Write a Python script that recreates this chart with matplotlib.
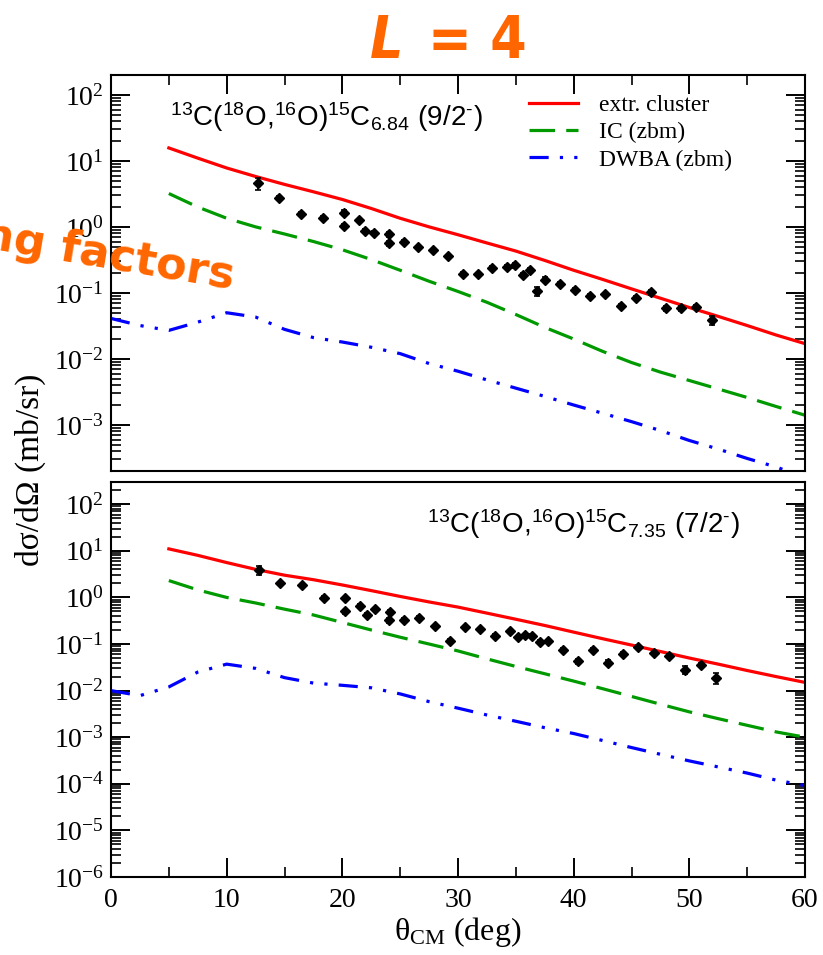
import numpy as np
import matplotlib
matplotlib.use("Agg")
import matplotlib.pyplot as plt
from matplotlib.ticker import LogLocator, NullFormatter, MultipleLocator

plt.rcParams['font.family'] = ['Liberation Serif', 'DejaVu Serif']

# ---------------- data ----------------
# theory curves, top panel: 15C 6.84 (9/2-)
th_x = [5, 7.5, 10, 12.5, 15, 17.5, 20, 22.5, 25, 27.5, 30, 32.5, 35, 37.5,
        40, 42.5, 45, 47.5, 50, 52.5, 55, 57.5, 60]
top_cluster = [15.7, 11.0, 7.8, 5.8, 4.4, 3.4, 2.6, 1.9, 1.35, 1.0, 0.76,
               0.57, 0.43, 0.31, 0.22, 0.16, 0.115, 0.083, 0.060, 0.044,
               0.032, 0.023, 0.017]
top_ic = [3.2, 2.0, 1.35, 1.0, 0.78, 0.60, 0.45, 0.32, 0.22, 0.15, 0.105,
          0.072, 0.047, 0.030, 0.020, 0.013, 0.0088, 0.0063, 0.0047, 0.0035,
          0.0026, 0.0019, 0.0014]

dw_x = [0, 2.5, 5, 7.5, 10, 12.5, 15, 17.5, 20, 22.5, 25, 27.5, 30, 32.5, 35,
        37.5, 40, 42.5, 45, 47.5, 50, 52.5, 55, 57.5, 60]
top_dwba = [0.041, 0.032, 0.027, 0.036, 0.050, 0.043, 0.028, 0.021, 0.018,
            0.015, 0.012, 0.0085, 0.0065, 0.0048, 0.0036, 0.0027, 0.0020,
            0.0015, 0.00112, 0.00082, 0.00058, 0.00043, 0.00031, 0.00023,
            0.00016]

# theory curves, bottom panel: 15C 7.35 (7/2-)
bot_cluster = [11.0, 8.0, 5.6, 4.0, 3.0, 2.4, 1.85, 1.4, 1.05, 0.8, 0.62,
               0.46, 0.34, 0.25, 0.18, 0.13, 0.095, 0.069, 0.050, 0.037,
               0.027, 0.020, 0.015]
bot_ic = [2.3, 1.45, 1.0, 0.76, 0.56, 0.42, 0.29, 0.20, 0.14, 0.10, 0.071,
          0.048, 0.033, 0.023, 0.016, 0.011, 0.0075, 0.0051, 0.0035, 0.0025,
          0.0018, 0.0013, 0.001]
bot_dwba = [0.010, 0.0078, 0.012, 0.025, 0.037, 0.030, 0.019, 0.0145, 0.013,
            0.0115, 0.0085, 0.0058, 0.0042, 0.0030, 0.0022, 0.0016, 0.0012,
            0.00085, 0.0006, 0.00043, 0.00031, 0.00023, 0.00017, 0.00012,
            0.000092]

# experimental points, top panel
top_exp_x = [12.73, 14.55, 16.4, 18.3, 20.17, 20.17, 21.4, 22.0, 22.7, 24.0,
             24.0, 25.3, 26.56, 27.8, 29.1, 30.4, 31.7, 32.96, 34.25, 34.95,
             35.58, 36.2, 36.85, 37.54, 38.84, 40.1, 41.43, 42.73, 44.05,
             45.38, 46.65, 48.0, 49.3, 50.6, 51.97]
top_exp_y = [4.57, 2.75, 1.58, 1.37, 1.65, 1.03, 1.25, 0.86, 0.81, 0.77, 0.57,
             0.60, 0.49, 0.44, 0.36, 0.195, 0.191, 0.238, 0.246, 0.261, 0.189,
             0.22, 0.106, 0.159, 0.138, 0.112, 0.091, 0.095, 0.063, 0.085,
             0.102, 0.058, 0.058, 0.061, 0.039]
top_exp_err = [0.9, 0.2, 0.1, 0.08, 0.15, 0.08, 0.08, 0.06, 0.05, 0.06, 0.05,
               0.04, 0.03, 0.03, 0.02, 0.015, 0.012, 0.015, 0.02, 0.025, 0.012,
               0.015, 0.015, 0.012, 0.01, 0.008, 0.006, 0.006, 0.005, 0.006,
               0.008, 0.005, 0.005, 0.005, 0.006]

# experimental points, bottom panel
bot_exp_x = [12.8, 14.63, 16.48, 18.4, 20.25, 20.25, 21.55, 22.1, 22.8, 24.1,
             24.0, 25.35, 26.6, 27.97, 29.27, 30.6, 31.9, 33.2, 34.5, 35.15,
             35.8, 36.4, 37.1, 37.8, 39.1, 40.4, 41.7, 43.0, 44.3, 45.6,
             46.95, 48.25, 49.6, 50.97, 52.3]
bot_exp_y = [3.87, 2.0, 1.84, 0.99, 0.95, 0.50, 0.66, 0.43, 0.56, 0.49, 0.32,
             0.33, 0.37, 0.24, 0.118, 0.228, 0.206, 0.151, 0.187, 0.139, 0.156,
             0.151, 0.109, 0.114, 0.075, 0.043, 0.075, 0.040, 0.062, 0.086,
             0.065, 0.056, 0.028, 0.036, 0.019]
bot_exp_err = [0.8, 0.15, 0.12, 0.06, 0.06, 0.05, 0.05, 0.04, 0.04, 0.04, 0.04,
               0.03, 0.03, 0.02, 0.01, 0.015, 0.015, 0.012, 0.015, 0.01, 0.012,
               0.012, 0.01, 0.01, 0.007, 0.005, 0.006, 0.005, 0.005, 0.008,
               0.006, 0.006, 0.005, 0.004, 0.005]

labels = ["extr. cluster", "IC (zbm)", "DWBA (zbm)"]
top_state = r'$\mathdefault{^{13}C(^{18}O{,}^{16}O)^{15}C_{6.84}\ (9/2^{‐})}$'
bot_state = r'$\mathdefault{^{13}C(^{18}O{,}^{16}O)^{15}C_{7.35}\ (7/2^{‐})}$'

# ---------------- figure ----------------
W, H = 823, 955
fig = plt.figure(figsize=(W / 100, H / 100), dpi=100)

def frac(x0, y_top, x1, y_bot):
    return [x0 / W, 1 - y_bot / H, (x1 - x0) / W, (y_bot - y_top) / H]

ax1 = fig.add_axes(frac(111, 75, 805, 471))
ax2 = fig.add_axes(frac(111, 482, 805, 877))

red, green, blue = '#FF0000', '#009A00', '#0000FF'
lw = 2.3


def draw(ax, cl, ic, dw, ex, ey, ee):
    ax.plot(th_x, cl, color=red, lw=lw, label=labels[0])
    ax.plot(th_x, ic, color=green, lw=lw, dashes=(8, 3.5), label=labels[1])
    ax.plot(dw_x, dw, color=blue, lw=lw, dashes=(6, 3.5, 1, 3.5, 1, 3.5),
            label=labels[2])
    ax.errorbar(ex, ey, yerr=ee, fmt='D', color='black', ms=4.8,
                elinewidth=1.2, capsize=2.5, capthick=1.2, zorder=5)
    ax.set_yscale('log')
    ax.set_xlim(0, 60)
    ax.xaxis.set_major_locator(MultipleLocator(10))
    ax.xaxis.set_minor_locator(MultipleLocator(5))
    ax.yaxis.set_major_locator(LogLocator(base=10, numticks=20))
    ax.yaxis.set_minor_locator(LogLocator(base=10, subs=np.arange(2, 10),
                                          numticks=20))
    ax.yaxis.set_minor_formatter(NullFormatter())
    ax.tick_params(which='major', direction='in', length=14, width=1.4,
                   labelsize=20, pad=5)
    ax.tick_params(which='minor', direction='in', length=7, width=1.2)
    for s in ax.spines.values():
        s.set_linewidth(1.5)


draw(ax1, top_cluster, top_ic, top_dwba, top_exp_x, top_exp_y, top_exp_err)
draw(ax2, bot_cluster, bot_ic, bot_dwba, bot_exp_x, bot_exp_y, bot_exp_err)

ax1.set_ylim(2e-4, 2e2)
ax2.set_ylim(1e-6, 3e2)

ax1.tick_params(axis='x', which='both', top=True, bottom=False,
                labelbottom=False)
ax1.tick_params(axis='y', which='both', left=True, right=True)
ax2.tick_params(axis='x', which='both', top=False, bottom=True, pad=8,
                labelsize=20)
ax2.tick_params(axis='y', which='both', left=True, right=True)

ax1.text(0.085, 0.87, top_state, transform=ax1.transAxes, fontsize=20,
         family='Liberation Sans', va='baseline')
ax2.text(0.455, 0.87, bot_state, transform=ax2.transAxes, fontsize=20,
         family='Liberation Sans', va='baseline')

ax1.legend(loc='upper left', bbox_to_anchor=(0.588, 0.975), frameon=False,
           fontsize=17, handlelength=2.1, handletextpad=0.9,
           labelspacing=0.25, borderaxespad=0)

fig.text(30 / W, 1 - 470 / H, 'dσ/dΩ (mb/sr)',
         rotation=90, ha='center', va='center', fontsize=24)
fig.text(458 / W, 1 - 932 / H, r'$\mathdefault{\theta_{CM}}$ (deg)',
         ha='center', va='center', fontsize=23)

orange = '#FF6600'
fig.text(370 / W, 1 - 58 / H, 'L', fontsize=42, color=orange,
         family='DejaVu Sans', weight='bold', style='italic',
         fontstretch='condensed', va='baseline')
fig.text(428 / W, 1 - 58 / H, '= 4', fontsize=42, color=orange,
         family='DejaVu Sans', weight='bold', fontstretch='condensed',
         va='baseline')
fig.text(232 / W, 1 - 289 / H, 'ng factors', fontsize=32, color=orange,
         family='DejaVu Sans', weight='bold', rotation=-9.5, ha='right',
         va='baseline', rotation_mode='anchor', zorder=10)

fig.savefig('out.png', dpi=100)
